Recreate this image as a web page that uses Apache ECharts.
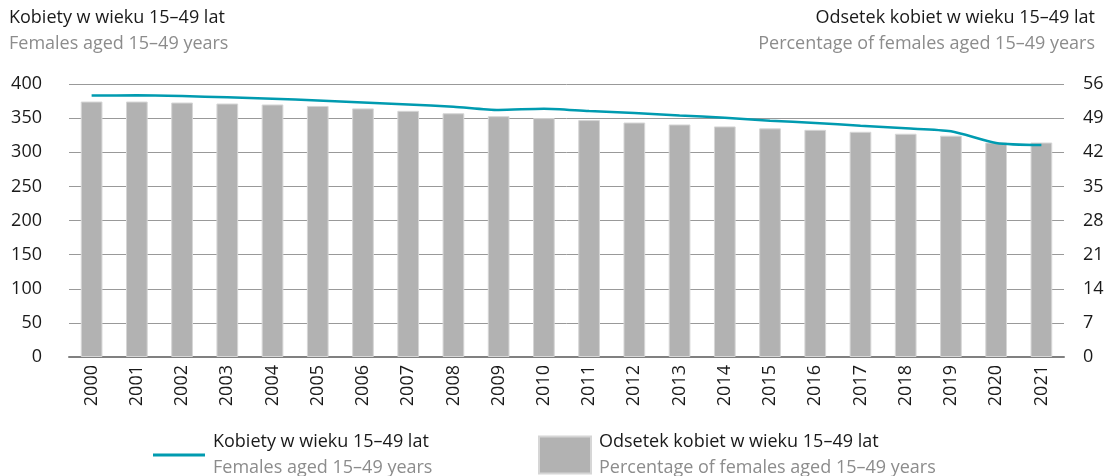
<!DOCTYPE html>
<html>
<head>
    <meta charset="utf-8">
    <title>Kobiety w wieku 15–49 lat</title>
    <script src="https://cdn.jsdelivr.net/npm/echarts@6/dist/echarts.min.js"></script>
    <style>
        html, body { margin: 0; padding: 0; background: #fff; }
        #chart { width: 1109px; height: 476px; }
    </style>
</head>
<body>
<div id="chart"></div>
<script>
    // dane
    var years = ['2000', '2001', '2002', '2003', '2004', '2005', '2006', '2007', '2008', '2009', '2010',
        '2011', '2012', '2013', '2014', '2015', '2016', '2017', '2018', '2019', '2020', '2021']
    // kobiety w wieku 15-49 lat (lewa os)
    var females = [383, 383.4, 382.4, 380.5, 378.5, 376, 373, 370, 366.8, 362, 363.8,
        360.4, 357.5, 354, 350.6, 346.2, 342.9, 338.9, 335, 330.7, 313.6, 310.5]
    // odsetek kobiet w wieku 15-49 lat (prawa os)
    var share = [52.4, 52.4, 52.2, 52.0, 51.8, 51.5, 51.0, 50.5, 50.0, 49.4, 49.0,
        48.6, 48.1, 47.7, 47.3, 46.9, 46.6, 46.2, 45.8, 45.4, 44.0, 44.0]
    var leftTicks = [0, 400, 50]
    var rightTicks = [0, 56, 7]

    var nameLine = 'Kobiety w wieku 15–49 lat'
    var nameLineEn = 'Females aged 15–49 years'
    var nameBar = 'Odsetek kobiet w wieku 15–49 lat'
    var nameBarEn = 'Percentage of females aged 15–49 years'

    var font = '"Open Sans", "Noto Sans", sans-serif'
    var fs = 18
    var myChart = echarts.init(document.getElementById('chart'))

    var richLegend = {
        a: {fontFamily: font, fontSize: fs, color: '#1a1a1a', lineHeight: 26, padding: [0, 0, 0, 3]},
        b: {fontFamily: font, fontSize: fs, color: '#8c8c8c', lineHeight: 26, padding: [0, 0, 0, 3]}
    }

    myChart.setOption({
        animation: false,
        textStyle: {fontFamily: font},
        graphic: [
            {type: 'text', left: 9, top: 9, style: {text: nameLine, font: fs + 'px ' + font, fill: '#1a1a1a'}},
            {type: 'text', left: 9, top: 35, style: {text: nameLineEn, font: fs + 'px ' + font, fill: '#8c8c8c'}},
            {type: 'text', right: 14, top: 9, style: {text: nameBar, font: fs + 'px ' + font, fill: '#1a1a1a'}},
            {type: 'text', right: 14, top: 35, style: {text: nameBarEn, font: fs + 'px ' + font, fill: '#8c8c8c'}}
        ],
        legend: [
            {
                data: [nameLine],
                left: 148,
                top: 428,
                icon: 'rect',
                itemWidth: 52,
                itemHeight: 3,
                formatter: function () { return '{a|' + nameLine + '}\n{b|' + nameLineEn + '}' },
                textStyle: {rich: richLegend}
            },
            {
                data: [nameBar],
                left: 533,
                top: 428,
                icon: 'rect',
                itemWidth: 52,
                itemHeight: 37,
                formatter: function () { return '{a|' + nameBar + '}\n{b|' + nameBarEn + '}' },
                textStyle: {rich: richLegend}
            }
        ],
        grid: {left: 69, right: 45, top: 84, bottom: 119},
        xAxis: {
            type: 'category',
            data: years,
            axisTick: {show: false},
            axisLine: {lineStyle: {color: '#808080', width: 2}},
            axisLabel: {rotate: 90, color: '#1a1a1a', fontSize: fs, margin: 8, fontFamily: font}
        },
        yAxis: [
            {
                type: 'value',
                min: leftTicks[0], max: leftTicks[1], interval: leftTicks[2],
                axisLabel: {color: '#1a1a1a', fontSize: fs, margin: 27, fontFamily: font},
                splitLine: {lineStyle: {color: '#999999', width: 1}},
                axisLine: {show: false},
                axisTick: {show: false}
            },
            {
                type: 'value',
                min: rightTicks[0], max: rightTicks[1], interval: rightTicks[2],
                position: 'right',
                axisLabel: {color: '#1a1a1a', fontSize: fs, margin: 19, fontFamily: font},
                splitLine: {show: false},
                axisLine: {show: false},
                axisTick: {show: false}
            }
        ],
        series: [
            {
                name: nameBar,
                type: 'bar',
                yAxisIndex: 1,
                data: share,
                barWidth: '48%',
                itemStyle: {color: '#b2b2b2', borderColor: '#d6d6d6', borderWidth: 1}
            },
            {
                name: nameLine,
                type: 'line',
                yAxisIndex: 0,
                data: females,
                smooth: 0.25,
                symbol: 'none',
                itemStyle: {color: '#009bb0'},
                lineStyle: {color: '#009bb0', width: 2.5}
            }
        ]
    })
</script>
</body>
</html>
